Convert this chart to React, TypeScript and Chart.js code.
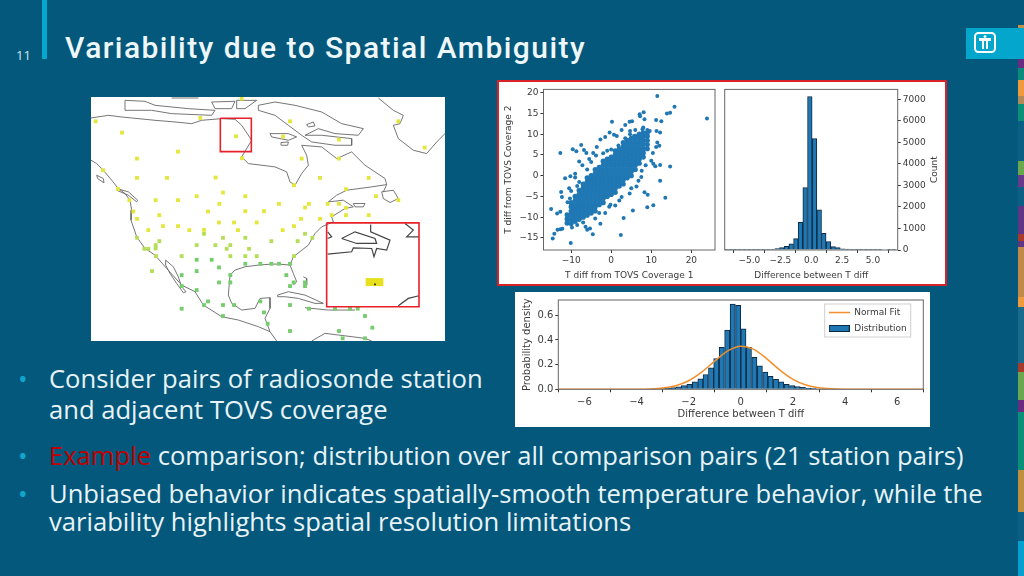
import React, { useEffect, useRef } from "react";
import { Chart, registerables } from "chart.js";
Chart.register(...registerables);

const MONO = "'DejaVu Sans'";
const TICK = "#3a3a3a";

// ---------- scatter ----------
const coreColumns: [number, number[]][] = [
  [-11, [-11.4, -10.4, -9.4]],
  [-10, [-11.5, -10.5, -9.5, -8.5, -7.5, -6.5]],
  [-9, [-11, -10, -9, -8, -7, -6, -5]],
  [-8, [-10.5, -9.5, -8.5, -7.5, -6.5, -5.5, -4.5, -3.5]],
  [-7, [-10, -9, -8, -7, -6, -5, -4, -3, -2]],
  [-6, [-9.5, -8.5, -7.5, -6.5, -5.5, -4.5, -3.5, -2.5, -1.5, -0.5]],
  [-5, [-9, -8, -7, -6, -5, -4, -3, -2, -1, 0]],
  [-4, [-8.5, -7.5, -6.5, -5.5, -4.5, -3.5, -2.5, -1.5, -0.5, 0.5, 1.5]],
  [-3, [-7, -6, -5, -4, -3, -2, -1, 0, 1, 2]],
  [-2, [-6.5, -5.5, -4.5, -3.5, -2.5, -1.5, -0.5, 0.5, 1.5, 2.5, 3.5]],
  [-1, [-5, -4, -3, -2, -1, 0, 1, 2, 3, 4]],
  [0, [-4.5, -3.5, -2.5, -1.5, -0.5, 0.5, 1.5, 2.5, 3.5, 4.5]],
  [1, [-4, -3, -2, -1, 0, 1, 2, 3, 4, 5, 6]],
  [2, [-2.5, -1.5, -0.5, 0.5, 1.5, 2.5, 3.5, 4.5, 5.5, 6.5]],
  [3, [-2, -1, 0, 1, 2, 3, 4, 5, 6, 7, 8]],
  [4, [-0.5, 0.5, 1.5, 2.5, 3.5, 4.5, 5.5, 6.5, 7.5, 8.5]],
  [5, [0, 1, 2, 3, 4, 5, 6, 7, 8, 9]],
  [6, [1.5, 2.5, 3.5, 4.5, 5.5, 6.5, 7.5, 8.5, 9.5]],
  [7, [3, 4, 5, 6, 7, 8, 9, 10]],
  [8, [4.5, 5.5, 6.5, 7.5, 8.5, 9.5, 10.3]],
  [9, [6.5, 7.5, 8.5, 9.5, 10.3]],
];
const outliers: [number, number][] = [
  [11.5, 19.2], [15.8, 16.6], [23.9, 13.8], [13.9, 15], [14.7, 15.2], [0.2, 13], [7.1, 14.8], [8.1, 15.3], [7.2, 14.3],
  [8.3, 13.6], [11.2, 13.4], [12.5, 13.1], [4.6, 13], [5.2, 13.1], [3.5, 12.2], [2.6, 11], [-0.4, 10.4], [0.7, 9.9],
  [1.4, 9.6], [-1.5, 9.3], [-2.7, 8.7], [-12.7, 5.5], [-9.6, 6.4], [-8.7, 5.9], [-7.5, 7.4], [-6.8, 6.2], [-6.2, 5.5],
  [-3.6, 6.9], [-3.8, 4.9], [-15, -8], [-13.5, -9.1], [-12.7, -8.7], [-14.6, -15.1], [-14.2, -14], [-13.4, -13],
  [-12.7, -12.9], [-12.2, -12.8], [-10.1, -16.2], [-12.5, -3.9], [-12.3, -5.1], [-11.5, -0.6], [-10.2, -0.1], [-9, -0.4],
  [2.4, -14.3], [-4.6, -14.1], [-6, -13], [-5.3, -12.7], [-6.4, -12.3], [-2.7, -11.6], [3.1, -10.2], [5.4, -8.4], [9, -7.6],
  [10.5, -7.1], [13.5, -5.3], [9.1, -4.6], [8.3, -4], [12.2, -1.2], [14.7, 2.2], [12.2, 2.6], [11, 2.3], [10.5, 2.9],
  [12, 7.2], [11.2, 6.9], [11.5, 8], [12.2, 10.4], [11.3, 10.8], [9.6, 10.8], [8, 11.6], [4.7, 10.8], [4.7, 10],
  [-8, 3.4], [-7.2, 2.5], [-9, 0.5], [-10.5, -3], [-10.9, -6.4], [-10.3, -5.5], [-10, -3.7], [-8, -1.5], [-8.5, -2.5],
  [-1.5, -9], [-0.5, -7.5], [-0.2, -7], [1, -7.2], [2, -6], [2.6, -5.1], [4.6, -4.3], [5, -3], [6.3, -2.6], [6.8, -1.2],
  [7.5, -0.3], [7.6, 1.2], [8.6, 2.5], [10, 3.6], [10.4, 5.5], [-3, -9], [-4, -10.3], [-7, -11.3], [-8.5, -11.9], [-9.8, -12.5],
  [-2, 5.4], [-1, 6], [0, 6.3], [1.8, 7.3], [3.5, 9], [5.7, 9.6], [6, 11], [7.8, 11.2], [9, 11], [-5, 3.3], [-6, 1.5], [-4.5, 5.5], [-5.5, 4],
];
const scatterCore = coreColumns.flatMap(([x, ys]) => ys.map((y) => ({ x, y })));
const scatterOut = outliers.map(([x, y]) => ({ x, y }));
const scatterXTicks = [-10, 0, 10, 20];
const scatterYTicks = [-15, -10, -5, 0, 5, 10, 15, 20];

// ---------- count histogram ----------
const countCenters = [-6.91, -6.54, -6.16, -5.78, -5.4, -5.02, -4.65, -4.27, -3.89, -3.51, -3.13, -2.76, -2.38, -2.0, -1.62, -1.24, -0.87, -0.49, -0.11, 0.27, 0.65, 1.02, 1.4, 1.78, 2.16, 2.54, 2.91, 3.29, 3.67, 4.05, 4.43, 4.8, 5.18, 5.56, 5.94, 6.32, 6.69];
const countValues = [5, 5, 5, 5, 5, 5, 5, 5, 5, 5, 30, 70, 110, 170, 290, 530, 1280, 2900, 7130, 5170, 1870, 770, 390, 160, 110, 50, 40, 15, 8, 8, 6, 6, 5, 5, 0, 5, 5];
const countXTicks = [-5, -2.5, 0, 2.5, 5];
const countYTicks = [0, 1000, 2000, 3000, 4000, 5000, 6000, 7000];

// ---------- density histogram ----------
const densityCenters = [-3.42, -3.22, -3.01, -2.80, -2.59, -2.38, -2.18, -1.97, -1.76, -1.55, -1.35, -1.14, -0.94, -0.73, -0.52, -0.31, -0.1, 0.1, 0.31, 0.52, 0.73, 0.94, 1.14, 1.35, 1.55, 1.76, 1.97, 2.18, 2.38, 2.59, 2.80, 3.01, 3.22];
const densityValues = [0.002, 0.003, 0.005, 0.009, 0.013, 0.02, 0.03, 0.04, 0.06, 0.085, 0.12, 0.175, 0.25, 0.34, 0.48, 0.69, 0.68, 0.49, 0.34, 0.26, 0.19, 0.14, 0.105, 0.08, 0.06, 0.04, 0.03, 0.023, 0.015, 0.01, 0.006, 0.004, 0.002];
const fitX = [-7, -5, -4, -3.5, -3, -2.5, -2, -1.5, -1, -0.5, 0, 0.5, 1, 1.5, 2, 2.5, 3, 3.5, 4, 5, 7];
const fitY = [0, 0, 0.0006, 0.0027, 0.0098, 0.0287, 0.0695, 0.139, 0.229, 0.312, 0.35, 0.324, 0.247, 0.156, 0.081, 0.035, 0.012, 0.0036, 0.0009, 0, 0];
const densityXTicks = [-6, -4, -2, 0, 2, 4, 6];
const densityYTicks = [0, 0.2, 0.4, 0.6];

// ---------- station map (picture-traced map units) ----------
const stationsNorth: [number, number][] = [
  [22, 78], [101, 112], [336, 68], [605, 78], [930, 78], [460, 10], [584, 124], [752, 133], [1009, 157], [269, 169], [146, 190], [461, 189], [640, 190], [752, 190], [44, 225], [146, 248], [236, 248], [382, 247], [695, 248], [841, 248], [617, 270], [773, 282], [89, 281], [863, 303], [404, 292], [325, 303], [471, 303], [930, 315], [123, 315], [202, 315], [269, 315], [393, 326], [572, 326], [662, 326], [718, 326], [752, 326], [650, 337], [773, 338], [135, 349], [359, 349], [471, 348], [527, 348], [213, 360], [146, 371], [638, 371], [695, 371], [730, 360], [773, 360], [841, 360], [392, 382], [437, 382], [505, 382], [617, 393], [224, 393], [269, 393], [347, 404], [180, 405], [303, 405], [449, 405], [583, 405], [443, 123],
];
const stationsMid: [number, number][] = [
  [347, 416], [404, 428], [471, 428], [213, 438], [202, 450], [202, 460], [549, 438], [628, 438], [650, 416], [672, 428], [325, 450], [381, 450], [426, 450], [415, 461], [482, 461], [146, 428], [168, 461], [180, 461], [280, 483], [426, 483], [471, 483], [505, 483], [203, 483], [617, 483], [191, 528],
];
const stationsSouth: [number, number][] = [
  [325, 494], [370, 494], [471, 506], [516, 506], [549, 506], [572, 506], [605, 506], [392, 517], [325, 528], [280, 540], [426, 540], [594, 540], [392, 562], [426, 562], [616, 562], [650, 562], [605, 573], [650, 573], [280, 573], [325, 585], [359, 619], [347, 630], [404, 630], [437, 630], [516, 619], [605, 630], [280, 641], [527, 652], [662, 641], [740, 641], [785, 641], [808, 641], [830, 663], [404, 663], [538, 686], [852, 698], [605, 708], [752, 708], [763, 730], [830, 730],
];
const coastlines: [number, number][][] = [
  [[8, 195], [25, 205], [45, 225], [70, 255], [90, 280], [110, 295], [125, 315], [130, 345], [128, 375], [145, 425], [170, 460], [200, 480], [235, 520], [280, 570], [320, 590], [345, 630], [400, 665], [450, 675], [510, 695], [545, 710], [565, 738]],
  [[232, 495], [255, 515], [270, 545], [280, 575], [293, 590], [285, 593], [265, 565], [245, 535], [232, 510], [232, 495]],
  [[85, 280], [120, 290], [148, 315], [145, 320], [120, 300], [85, 285]],
  [[25, 240], [45, 250], [47, 263], [28, 250], [25, 240]],
  [[615, 570], [625, 560], [615, 535], [605, 510], [572, 507], [550, 507], [510, 510], [470, 515], [440, 525], [425, 540], [420, 600], [430, 625], [460, 645], [500, 640], [515, 610], [545, 608], [545, 640], [530, 670], [545, 710]],
  [[605, 510], [615, 485], [660, 450], [680, 415], [700, 395], [735, 380], [730, 365], [770, 340], [795, 335], [765, 315], [720, 320], [745, 300], [775, 285], [850, 275], [895, 268], [885, 290]],
  [[8, 68], [60, 60], [100, 65], [130, 68], [200, 75], [260, 80], [310, 85], [340, 75], [400, 70], [440, 72], [460, 90], [490, 135], [460, 185], [480, 205], [560, 215], [595, 230], [605, 260], [620, 270], [640, 235], [660, 210], [655, 180], [640, 150], [700, 155], [745, 190], [790, 170], [830, 210], [890, 250], [895, 268]],
  [[510, 30], [560, 20], [620, 30], [700, 50], [760, 85], [825, 100], [810, 120], [740, 115], [690, 100], [650, 120], [700, 120], [790, 130], [790, 150], [740, 150], [670, 140], [640, 120], [600, 90], [560, 60], [510, 45], [510, 30]],
  [[545, 115], [600, 115], [625, 125], [600, 135], [550, 125], [545, 115]],
  [[110, 15], [170, 18], [200, 30], [300, 40], [380, 45], [370, 60], [250, 55], [190, 45], [110, 45], [110, 15]],
  [[250, 8], [330, 8]],
  [[370, 20], [440, 18], [430, 40], [380, 40], [370, 20]],
  [[445, 15], [505, 15], [470, 40], [445, 40], [445, 15]],
  [[870, 8], [915, 45], [945, 60], [935, 85], [915, 90], [930, 130], [975, 165], [1015, 175], [1045, 140], [1070, 115]],
  [[568, 600], [600, 590], [650, 600], [705, 625], [680, 625], [630, 610], [590, 605], [568, 605], [568, 600]],
  [[645, 545], [655, 550], [655, 570], [645, 560]],
  [[650, 638], [720, 645], [800, 645]],
  [[670, 738], [710, 715], [750, 720], [830, 730], [850, 738]],
  [[795, 325], [830, 325], [825, 335], [800, 335], [795, 325]],
  [[880, 290], [915, 285], [930, 310], [905, 322], [885, 310], [880, 290]],
  [[655, 88], [675, 80], [680, 92], [660, 95], [655, 88]],
  [[578, 142], [600, 140], [598, 150], [580, 150], [578, 142]],
];
const insetCoast: [number, number][][] = [
  [[847, 388], [847, 410], [905, 435], [895, 465], [865, 460], [857, 485], [850, 460], [795, 458], [790, 470], [718, 477]],
  [[760, 430], [800, 410], [860, 430], [865, 445], [805, 445], [760, 430]],
  [[718, 410], [730, 425], [718, 430]],
  [[950, 385], [975, 405], [955, 425], [992, 425]],
  [[930, 632], [960, 610], [992, 602]],
];
const redBoxes: [number, number][][] = [
  [[396, 69], [489, 69], [489, 169], [396, 169], [396, 69]],
  [[715, 383], [992, 383], [992, 635], [715, 635], [715, 383]],
];
const insetStation: [number, number][] = [[832, 561], [885, 561]];
const insetDot: [number, number][] = [[860, 568]];

// ---------- slide ----------
const stripe: [number, string][] = [
  [25, "#03587c"], [28, "#c08f4c"], [59, "#02a6cc"], [68, "#6a2c80"], [80, "#0a8a7a"], [96, "#ef9a3d"], [104, "#b08a5a"], [121, "#0a8f78"], [161, "#0c5f84"], [175, "#6aa84f"], [187, "#693a8c"], [206, "#0c5f84"], [234, "#5f3585"], [241, "#a83a2a"], [247, "#5f3585"], [297, "#c08a4a"], [307, "#ef9a3d"], [363, "#1a6a8c"], [372, "#a83a2a"], [400, "#6aa84f"], [412, "#6a2c80"], [470, "#0a8f78"], [512, "#c08f40"], [541, "#0c5f84"], [576, "#02a0cf"],
];
const TITLE = "Variability due to Spatial Ambiguity";
const PAGE = "11";
const BG = "#03587c";

const minus = (s: string) => s.replace("-", "\u2212");
const frame = {
  id: "frame",
  afterDraw(chart: any) {
    const { ctx, chartArea: a } = chart;
    ctx.save();
    ctx.strokeStyle = "#666";
    ctx.lineWidth = 1;
    ctx.strokeRect(a.left, a.top, a.right - a.left, a.bottom - a.top);
    ctx.restore();
  },
};
const countTitle = {
  id: "countTitle",
  afterDraw(chart: any) {
    const { ctx, chartArea: a } = chart;
    ctx.save();
    ctx.translate(a.right + 37.3, (a.top + a.bottom) / 2);
    ctx.rotate(-Math.PI / 2);
    ctx.textAlign = "center";
    ctx.textBaseline = "middle";
    ctx.fillStyle = TICK;
    ctx.font = `9px ${MONO}`;
    ctx.fillText("Count", 0, 0);
    ctx.restore();
  },
};
const legendFrame = {
  id: "legendFrame",
  afterLayout(chart: any) {
    const L = chart.legend;
    const a = chart.chartArea;
    L.left = a.right - 101.6;
    L.right = L.left + L.width;
    L.top = a.top + 1;
    L.bottom = L.top + L.height;
  },
  afterDatasetsDraw(chart: any) {
    const L = chart.legend;
    const boxes = L?.legendHitBoxes;
    if (!boxes?.length) return;
    const { ctx } = chart;
    const pad = 7;
    const l = L.left + pad - 4;
    const t = L.top + pad - 4;
    const w = Math.max(...boxes.map((b: any) => b.width)) + 8;
    const h = boxes.reduce((s: number, b: any) => s + b.height, 0) + pad + 8;
    ctx.save();
    ctx.strokeStyle = "#cfcfcf";
    ctx.lineWidth = 1;
    ctx.strokeRect(l, t, w, h);
    ctx.restore();
  },
};

function axis(
  min: number,
  max: number,
  ticks: number[],
  fmt: (v: number) => string,
  size: number,
  title: string,
  fontSize: number,
  position: string,
  vertical: boolean,
  tickPad = 2
) {
  return {
    type: "linear",
    position,
    min,
    max,
    offset: false,
    afterBuildTicks: (s: any) => {
      s.ticks = ticks.map((value) => ({ value }));
    },
    afterFit: (s: any) => {
      if (vertical) s.width = size;
      else s.height = size;
    },
    grid: { drawOnChartArea: false, drawTicks: true, tickLength: 3, tickColor: "#333", lineWidth: 1 },
    border: { display: false },
    ticks: {
      autoSkip: false,
      maxRotation: 0,
      padding: tickPad,
      color: TICK,
      font: { family: MONO, size: fontSize },
      callback: (v: any) => minus(fmt(Number(v))),
    },
    title: title
      ? { display: true, text: title, color: TICK, padding: { top: 1, bottom: 1 }, font: { family: MONO, size: fontSize } }
      : { display: false },
  };
}

function swatch(kind: "line" | "box") {
  const c = document.createElement("canvas");
  c.width = 21;
  c.height = 9;
  const g = c.getContext("2d")!;
  if (kind === "line") {
    g.strokeStyle = "#f28e2b";
    g.lineWidth = 1.5;
    g.beginPath();
    g.moveTo(0, 4.5);
    g.lineTo(21, 4.5);
    g.stroke();
  } else {
    g.fillStyle = "#1f77b4";
    g.fillRect(0.5, 1.5, 20, 6);
    g.strokeStyle = "#0d2a40";
    g.strokeRect(0.5, 1.5, 20, 6);
  }
  return c;
}

const xy = (pts: [number, number][]) => pts.map(([x, y]) => ({ x, y }));

function useChart(make: (c: HTMLCanvasElement) => Chart) {
  const ref = useRef<HTMLCanvasElement>(null);
  useEffect(() => {
    const ch = make(ref.current!);
    return () => ch.destroy();
  }, []);
  return ref;
}

const box = (l: number, t: number, w: number, h: number): React.CSSProperties => ({ position: "absolute", left: l, top: t, width: w, height: h });

export default function App() {
  useEffect(() => {
    document.body.style.margin = "0";
    document.body.style.background = BG;
  }, []);

  const scatterRef = useChart(
    (c) =>
      new Chart(c, {
        type: "scatter",
        data: {
          datasets: [
            { label: "cloud", data: scatterCore, backgroundColor: "#1f77b4", borderWidth: 0, pointRadius: 2.6 },
            { label: "pairs", data: scatterOut, backgroundColor: "#1f77b4", borderWidth: 0, pointRadius: 2 },
          ],
        },
        options: {
          responsive: false,
          animation: false,
          layout: { autoPadding: false, padding: { top: 6, right: 5, left: 3, bottom: 2 } },
          plugins: { legend: { display: false }, tooltip: { enabled: false } },
          scales: {
            x: axis(-16.9, 25.9, scatterXTicks, (v) => String(v), 32, "T diff from TOVS Coverage 1", 9, "bottom", false),
            y: axis(-17.9, 20.8, scatterYTicks, (v) => String(v), 41.5, "T diff from TOVS Coverage 2", 9, "left", true),
          },
        } as any,
        plugins: [frame],
      })
  );

  const countRef = useChart(
    (c) =>
      new Chart(c, {
        type: "bar",
        data: {
          datasets: [
            {
              label: "Count",
              data: countCenters.map((x, i) => ({ x, y: countValues[i] })),
              backgroundColor: "#1f77b4",
              borderColor: "#0d2a40",
              borderWidth: 1,
              barPercentage: 1,
              categoryPercentage: 1,
            },
          ],
        },
        options: {
          responsive: false,
          animation: false,
          layout: { autoPadding: false, padding: { top: 6, left: 4.7, right: 0, bottom: 2 } },
          plugins: { legend: { display: false }, tooltip: { enabled: false } },
          scales: {
            x: axis(-7, 7, countXTicks, (v) => v.toFixed(1), 32, "Difference between T diff", 9, "bottom", false),
            y: axis(0, 7460, countYTicks, (v) => String(v), 47.3, "", 9, "right", true),
          },
        } as any,
        plugins: [frame, countTitle],
      })
  );

  const densityRef = useChart(
    (c) =>
      new Chart(c, {
        type: "bar",
        data: {
          datasets: [
            {
              type: "line",
              label: "Normal Fit",
              data: fitX.map((x, i) => ({ x, y: fitY[i] })),
              borderColor: "#f28e2b",
              borderWidth: 1.5,
              pointRadius: 0,
              cubicInterpolationMode: "monotone",
            },
            {
              label: "Distribution",
              data: densityCenters.map((x, i) => ({ x, y: densityValues[i] })),
              backgroundColor: "#1f77b4",
              borderColor: "#0d2a40",
              borderWidth: 1,
              barPercentage: 1,
              categoryPercentage: 1,
            },
          ],
        },
        options: {
          responsive: false,
          animation: false,
          layout: { autoPadding: false, padding: { top: 8, right: 6.7, left: 5, bottom: 6 } },
          plugins: {
            tooltip: { enabled: false },
            legend: {
              display: true,
              position: "chartArea",
              align: "start",
              labels: {
                usePointStyle: true,
                pointStyleWidth: 21,
                boxHeight: 9,
                padding: 7,
                color: TICK,
                font: { family: MONO, size: 9 },
                generateLabels: () => [
                  { text: "Normal Fit", pointStyle: swatch("line"), fillStyle: "#f28e2b", strokeStyle: "#f28e2b", lineWidth: 0, hidden: false, datasetIndex: 0, fontColor: TICK },
                  { text: "Distribution", pointStyle: swatch("box"), fillStyle: "#1f77b4", strokeStyle: "#0d2a40", lineWidth: 0, hidden: false, datasetIndex: 1, fontColor: TICK },
                ],
              },
            },
          },
          scales: {
            x: axis(-7, 7, densityXTicks, (v) => String(v), 31.7, "Difference between T diff", 10, "bottom", false, 4),
            y: axis(0, 0.724, densityYTicks, (v) => v.toFixed(1), 38.3, "Probability density", 10, "left", true),
          },
        } as any,
        plugins: [frame, legendFrame],
      })
  );

  const mapRef = useChart((c) => {
    const point = (label: string, pts: [number, number][], color: string) => ({
      label,
      data: xy(pts),
      showLine: false,
      pointStyle: "rect",
      pointRadius: 2.7,
      borderWidth: 0,
      backgroundColor: color,
    });
    const line = (label: string, pts: [number, number][], color: string, w: number) => ({
      label,
      data: xy(pts),
      showLine: true,
      pointRadius: 0,
      borderColor: color,
      borderWidth: w,
      tension: 0,
    });
    return new Chart(c, {
      type: "scatter",
      data: {
        datasets: [
          ...redBoxes.map((b, i) => line("box" + i, b, "#e8202a", 1.6)),
          { ...point("dot", insetDot, "#222"), pointRadius: 1.2 },
          line("inset station", insetStation, "#e8e01c", 8),
          ...insetCoast.map((b, i) => line("inset coast " + i, b, "#444", 1.2)),
          point("north", stationsNorth, "#e4e63a"),
          point("mid", stationsMid, "#b4de58"),
          point("south", stationsSouth, "#74cc6c"),
          ...coastlines.map((b, i) => line("coast " + i, b, "#666", 0.9)),
        ],
      },
      options: {
        responsive: false,
        animation: false,
        layout: { autoPadding: false, padding: 0 },
        plugins: { legend: { display: false }, tooltip: { enabled: false } },
        scales: {
          x: { type: "linear", min: 8, max: 1070, display: false },
          y: { type: "linear", min: 5, max: 738, reverse: true, display: false },
        },
      } as any,
    });
  });

  const textColor = "#e8f3f7";
  const bodyFont: React.CSSProperties = {
    position: "absolute",
    fontFamily: "'Open Sans'",
    fontSize: 25.6,
    lineHeight: "30px",
    color: textColor,
    whiteSpace: "nowrap",
  };
  const bullet = (t: number) => (
    <div style={{ ...bodyFont, left: 18, top: t, color: "#10a5cc" }}>•</div>
  );

  let prev = 0;
  return (
    <div style={{ position: "absolute", left: 0, top: 0, width: 1024, height: 576, overflow: "hidden", background: BG }}>
      <div style={{ ...box(42, 0, 5, 59), background: "#04a8cf" }} />
      <div style={{ position: "absolute", left: 16, top: 46, fontFamily: "'Open Sans'", fontSize: 13, color: "#cfe6ee" }}>{PAGE}</div>
      <div style={{ position: "absolute", left: 65, top: 29, fontFamily: "Roboto", fontWeight: 500, fontSize: 30, lineHeight: "38px", letterSpacing: 1.45, color: "#eef7fa", whiteSpace: "nowrap" }}>{TITLE}</div>

      {/* right colour stripe */}
      {stripe.map(([end, col], i) => {
        const s = <div key={i} style={{ ...box(1018, prev, 6, end - prev), background: col }} />;
        prev = end;
        return s;
      })}

      {/* logo */}
      <div style={{ ...box(966, 28, 58, 31), background: "#04a6cc" }} />
      <svg style={{ ...box(973, 31, 24, 23) }} viewBox="0 0 24 23">
        <rect x="2" y="2" width="20" height="19" rx="3.5" fill="none" stroke="#fff" strokeWidth="2" />
        <path d="M6 7h12v3H15v8h-2v-8h-2v8H9v-8H6z" fill="#fff" />
        <circle cx="12" cy="5.6" r="1.4" fill="#fff" />
      </svg>

      {/* map */}
      <div style={{ ...box(90.5, 97, 354.5, 244), background: "#fff" }}>
        <canvas ref={mapRef} width={354} height={244} style={{ display: "block" }} />
      </div>

      {/* two panel figure */}
      <div style={{ ...box(497, 80, 450, 206), background: "#fff", border: "2px solid #d8222a", boxSizing: "border-box" }} />
      <canvas ref={scatterRef} width={221} height={202} style={{ ...box(499, 82, 221, 202) }} />
      <canvas ref={countRef} width={225} height={202} style={{ ...box(720, 82, 225, 202) }} />

      {/* density figure */}
      <div style={{ ...box(515, 292, 415, 135), background: "#fff" }} />
      <canvas ref={densityRef} width={415} height={135} style={{ ...box(515, 292, 415, 135) }} />

      {/* text */}
      {bullet(364)}
      <div style={{ ...bodyFont, left: 49, top: 364 }}>Consider pairs of radiosonde station</div>
      <div style={{ ...bodyFont, left: 49, top: 395 }}>and adjacent TOVS coverage</div>
      {bullet(441)}
      <div style={{ ...bodyFont, left: 49, top: 441 }}>
        <span style={{ color: "#c00000" }}>Example</span> comparison; distribution over all comparison pairs (21 station pairs)
      </div>
      {bullet(479)}
      <div style={{ ...bodyFont, left: 49, top: 479 }}>Unbiased behavior indicates spatially-smooth temperature behavior, while the</div>
      <div style={{ ...bodyFont, left: 49, top: 507 }}>variability highlights spatial resolution limitations</div>
    </div>
  );
}
